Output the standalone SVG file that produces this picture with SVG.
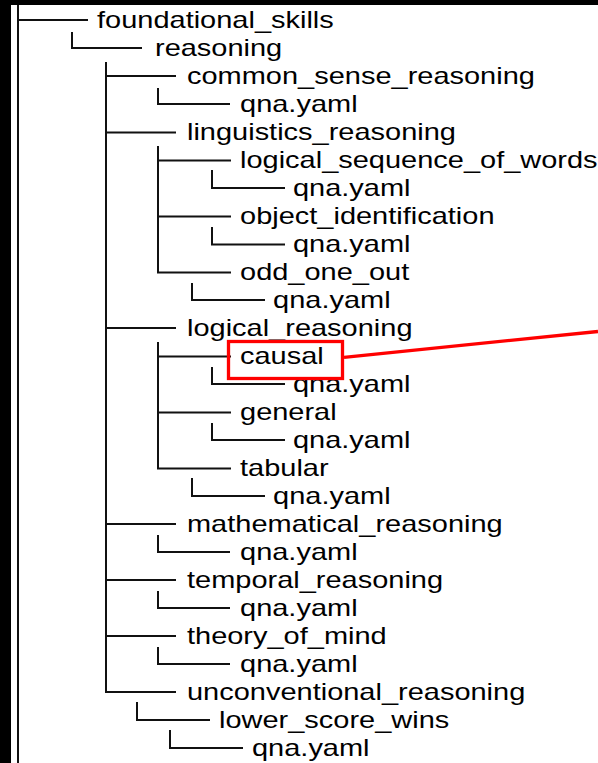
<svg xmlns="http://www.w3.org/2000/svg" width="598" height="763" viewBox="0 0 598 763">
  <style>
    .lbl { font-family: "Liberation Sans", Arial, Helvetica, sans-serif; font-size: 23px; fill: #000; }
    .tree { fill: none; stroke: #111; stroke-width: 2; }
    .hl { fill: none; stroke: #f00; stroke-width: 3.3; }
  </style>
  <rect x="0" y="0" width="598" height="763" fill="#fff"/>
  <!-- window frame edges -->
  <rect x="0" y="0" width="598" height="5" fill="#000"/>
  <rect x="0" y="0" width="11" height="763" fill="#000"/>

  <g id="connectors" class="tree">
    <path d="M18 5 V763 M18 20 H88"/>
    <path d="M72 32 V48 H142"/>
    <path d="M106 62 V692 H176 M106 76 H176 M106 132.5 H176 M106 328 H176 M106 524 H176 M106 580 H176 M106 636 H176"/>
    <path d="M158 88 V104 H230"/>
    <path d="M158 146 V272.5 H231 M158 160.5 H231 M158 216.5 H231"/>
    <path d="M212 170 V188 H285"/>
    <path d="M212 227 V244.5 H285"/>
    <path d="M192 283 V300 H265"/>
    <path d="M158 342 V468.5 H231 M158 356.5 H231 M158 412.5 H231"/>
    <path d="M212 367 V384 H285"/>
    <path d="M212 423 V440 H285"/>
    <path d="M192 478 V496 H265"/>
    <path d="M158 535 V552 H230"/>
    <path d="M158 591 V608 H230"/>
    <path d="M158 647 V664 H230"/>
    <path d="M137 702 V720 H210"/>
    <path d="M170 730 V748 H243"/>
  </g>

  <!-- labels are set in a horizontally widened face -->
  <g id="nodes" transform="scale(1.26 1)">
    <g id="foundational_skills"><text class="lbl" x="77" y="28">foundational_skills</text></g>
    <g id="reasoning"><text class="lbl" x="123" y="56">reasoning</text></g>
    <g id="common_sense_reasoning"><text class="lbl" x="148.4" y="84">common_sense_reasoning</text></g>
    <g id="common_sense_qna"><text class="lbl" x="190.5" y="112">qna.yaml</text></g>
    <g id="linguistics_reasoning"><text class="lbl" x="148.4" y="140.5">linguistics_reasoning</text></g>
    <g id="logical_sequence_of_words"><text class="lbl" x="190.5" y="168.5">logical_sequence_of_words</text></g>
    <g id="logical_sequence_qna"><text class="lbl" x="232.5" y="196">qna.yaml</text></g>
    <g id="object_identification"><text class="lbl" x="190.5" y="224.5">object_identification</text></g>
    <g id="object_identification_qna"><text class="lbl" x="232.5" y="252.5">qna.yaml</text></g>
    <g id="odd_one_out"><text class="lbl" x="190.5" y="280.5">odd_one_out</text></g>
    <g id="odd_one_out_qna"><text class="lbl" x="216.7" y="308">qna.yaml</text></g>
    <g id="logical_reasoning"><text class="lbl" x="148.4" y="336">logical_reasoning</text></g>
    <g id="causal"><text class="lbl" x="190.5" y="364.5">causal</text></g>
    <g id="causal_qna"><text class="lbl" x="232.5" y="392">qna.yaml</text></g>
    <g id="general"><text class="lbl" x="190.5" y="420.5">general</text></g>
    <g id="general_qna"><text class="lbl" x="232.5" y="448">qna.yaml</text></g>
    <g id="tabular"><text class="lbl" x="190.5" y="476.5">tabular</text></g>
    <g id="tabular_qna"><text class="lbl" x="216.7" y="504">qna.yaml</text></g>
    <g id="mathematical_reasoning"><text class="lbl" x="148.4" y="532">mathematical_reasoning</text></g>
    <g id="mathematical_qna"><text class="lbl" x="190.5" y="560">qna.yaml</text></g>
    <g id="temporal_reasoning"><text class="lbl" x="148.4" y="588">temporal_reasoning</text></g>
    <g id="temporal_qna"><text class="lbl" x="190.5" y="616">qna.yaml</text></g>
    <g id="theory_of_mind"><text class="lbl" x="148.4" y="644">theory_of_mind</text></g>
    <g id="theory_of_mind_qna"><text class="lbl" x="190.5" y="672">qna.yaml</text></g>
    <g id="unconventional_reasoning"><text class="lbl" x="148.4" y="700">unconventional_reasoning</text></g>
    <g id="lower_score_wins"><text class="lbl" x="173.8" y="728">lower_score_wins</text></g>
    <g id="lower_score_wins_qna"><text class="lbl" x="200" y="756">qna.yaml</text></g>
  </g>

  <!-- highlight callout -->
  <g id="highlight">
    <rect class="hl" x="228.5" y="341.5" width="114" height="37"/>
    <path class="hl" d="M344 357.3 L598 331.5" stroke-width="3"/>
  </g>
</svg>
